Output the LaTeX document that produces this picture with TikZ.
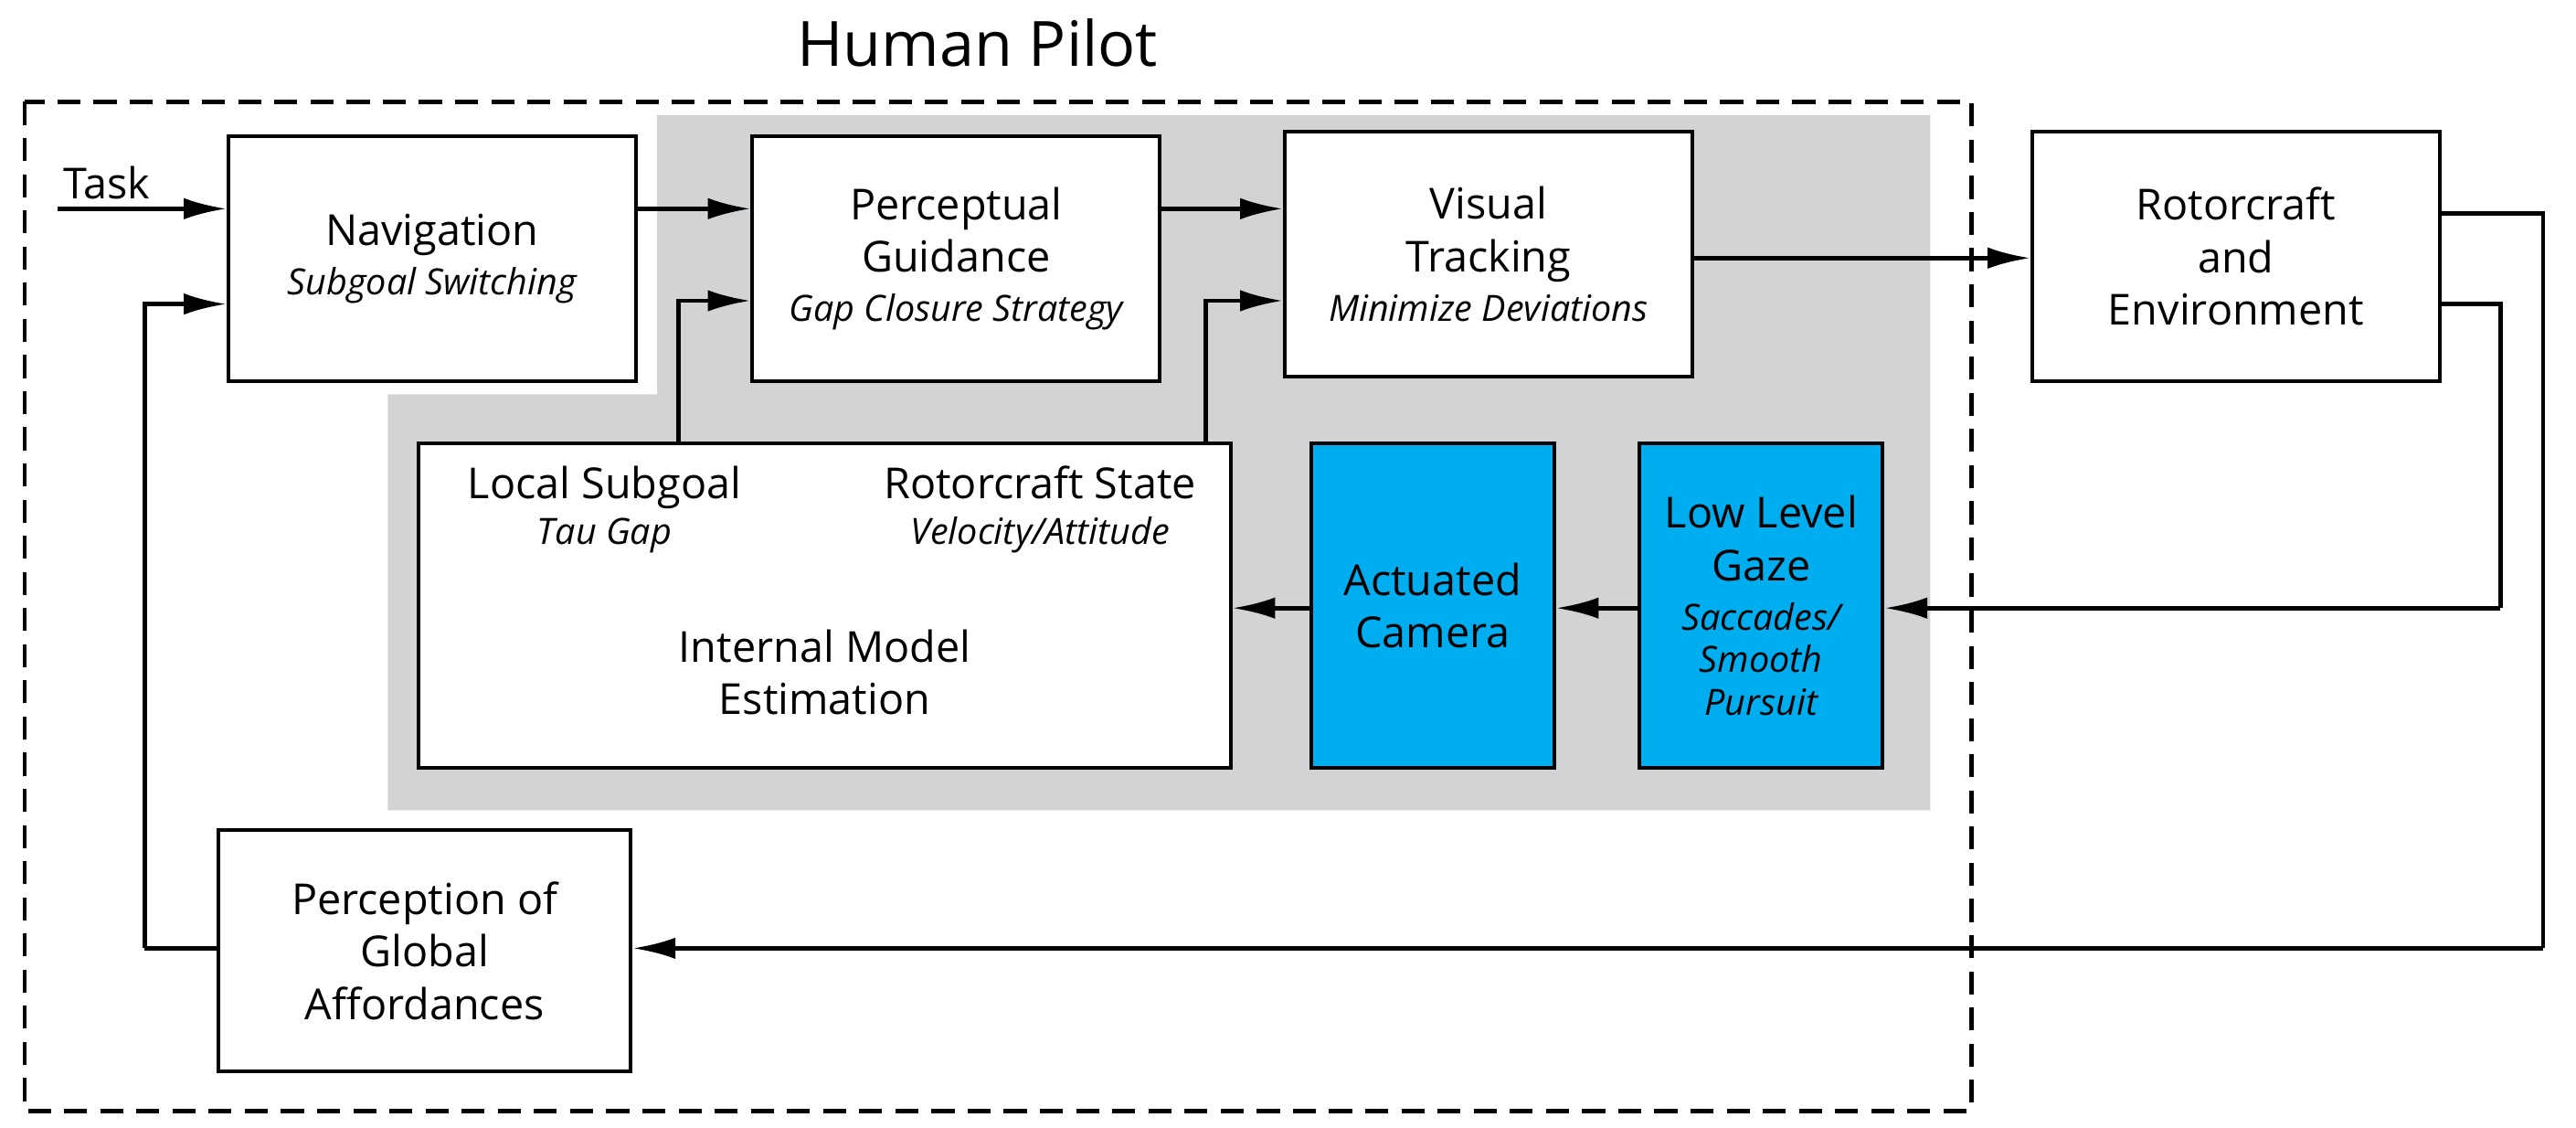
\documentclass[tikz,border=0pt]{standalone}
\usepackage{fontspec}
\setmainfont{Open Sans}
\usetikzlibrary{arrows.meta}
\definecolor{grayarea}{HTML}{D1D3D4}
\definecolor{cyanbox}{HTML}{00AEEF}
\newcommand\sbt{\fontsize{22}{27}\selectfont\itshape}
\begin{document}
\begin{tikzpicture}[x=1pt,y=-1pt,
  box/.style={draw,line width=2.2pt,fill=white,align=center,font=\fontsize{26}{32}\selectfont,inner sep=0pt},
  ln/.style={line width=2.6pt},
  ar/.style={ln,-{Latex[length=26pt,width=13pt]}}]
\useasboundingbox (0,0) rectangle (1568,686);
% gray area
\fill[grayarea] (400,70) -- (1175,70) -- (1175,493) -- (236,493) -- (236,240) -- (400,240) -- cycle;
% dashed frame
\draw[line width=2.6pt,dash pattern=on 14pt off 8pt] (15,62) rectangle (1200,676);
\node[font=\fontsize{38}{44}\selectfont] (title) at (595,26) {Human Pilot};
% boxes
\node[box,minimum width=248pt,minimum height=149pt] (nav) at (263,157.5) {Navigation\\[-2pt]{\sbt Subgoal Switching}};
\node[box,minimum width=248pt,minimum height=149pt] (pg) at (582,157.5) {Perceptual\\Guidance\\[-2pt]{\sbt Gap Closure Strategy}};
\node[box,minimum width=248pt,minimum height=149pt] (vt) at (906,154.5) {Visual\\Tracking\\[-2pt]{\sbt Minimize Deviations}};
\node[box,minimum width=248pt,minimum height=152pt] (rc) at (1361,156) {Rotorcraft\\and\\Environment};
\node[box,minimum width=494pt,minimum height=197pt] (im) at (502,368.5) {};
\node[align=center,font=\fontsize{26}{32}\selectfont] (ls) at (368,310) {Local Subgoal\\[-4pt]{\sbt Tau Gap}};
\node[align=center,font=\fontsize{26}{32}\selectfont] (rs) at (633,310) {Rotorcraft State\\[-4pt]{\sbt Velocity/Attitude}};
\node[align=center,font=\fontsize{26}{32}\selectfont] (ime) at (502,409) {Internal Model\\Estimation};
\node[box,fill=cyanbox,minimum width=148pt,minimum height=197pt] (cam) at (872,368.5) {Actuated\\Camera};
\node[box,fill=cyanbox,minimum width=148pt,minimum height=197pt] (gz) at (1072,368.5) {Low Level\\Gaze\\[-2pt]{\sbt Saccades/}\\[-6pt]{\sbt Smooth}\\[-6pt]{\sbt Pursuit}};
\node[box,minimum width=251pt,minimum height=147pt] (pga) at (258.5,578.5) {Perception of\\Global\\Affordances};
% coordinates
\coordinate (tk) at (35,127);
\node[font=\fontsize{26}{32}\selectfont] (tasklbl) at (65,111) {Task};
\coordinate (fb1) at (88,577);
\coordinate (fb2) at (88,185);
\coordinate (l1) at (413,270);
\coordinate (l2) at (413,183);
\coordinate (r1) at (734,270);
\coordinate (r2) at (734,183);
\coordinate (o1) at (1548,130);
\coordinate (o2) at (1548,577);
\coordinate (p1) at (1522,185);
\coordinate (p2) at (1522,370);
% connectors
\draw[ar] (tk) -- (tk -| nav.west);
\draw[ln] (pga.west |- fb1) -- (fb1);
\draw[ar] (fb1) -- (fb2) -- (fb2 -| nav.west);
\draw[ar] (nav.east |- 0,127) -- (pg.west |- 0,127);
\draw[ar] (l1) -- (l2) -- (l2 -| pg.west);
\draw[ar] (pg.east |- 0,127) -- (vt.west |- 0,127);
\draw[ar] (r1) -- (r2) -- (r2 -| vt.west);
\draw[ar] (vt.east |- 0,157) -- (rc.west |- 0,157);
\draw[ln] (rc.east |- o1) -- (o1) -- (o2);
\draw[ar] (o2) -- (pga.east |- o2);
\draw[ln] (rc.east |- p1) -- (p1) -- (p2);
\draw[ar] (p2) -- (gz.east |- p2);
\draw[ar] (gz.west |- 0,370) -- (cam.east |- 0,370);
\draw[ar] (cam.west |- 0,370) -- (im.east |- 0,370);
\end{tikzpicture}
\end{document}
